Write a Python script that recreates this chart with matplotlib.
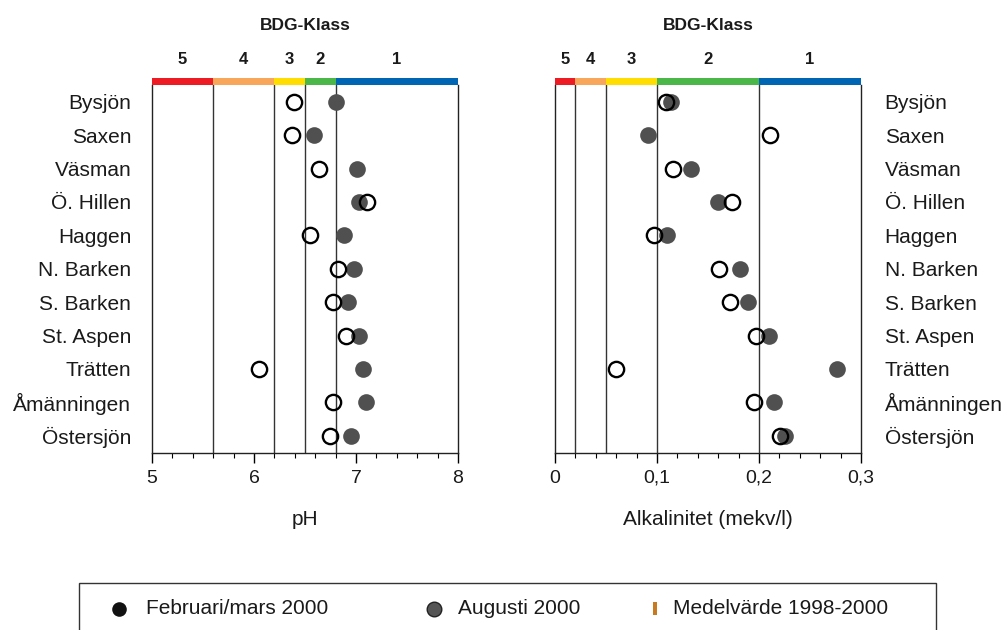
import matplotlib
matplotlib.use("Agg")
import matplotlib.pyplot as plt
from matplotlib.patches import Rectangle
from matplotlib.lines import Line2D

plt.rcParams['font.family'] = ['Liberation Sans', 'DejaVu Sans']

lakes = ["Bysjön", "Saxen", "Väsman", "Ö. Hillen", "Haggen", "N. Barken",
         "S. Barken", "St. Aspen", "Trätten", "Åmänningen", "Östersjön"]

ph_feb = [6.39, 6.37, 6.64, 7.11, 6.55, 6.82, 6.77, 6.90, 6.05, 6.77, 6.745]
ph_aug = [6.80, 6.585, 7.005, 7.03, 6.88, 6.98, 6.92, 7.03, 7.07, 7.10, 6.95]

alk_feb = [0.1085, 0.2105, 0.1154, 0.1735, 0.0967, 0.1605, 0.1712, 0.1974, 0.0595, 0.1954, 0.2206]
alk_aug = [0.1137, 0.0915, 0.1337, 0.1595, 0.1098, 0.1817, 0.1888, 0.2095, 0.276, 0.215, 0.2255]

ph_class_edges = [5.0, 5.6, 6.2, 6.5, 6.8, 8.0]
alk_class_edges = [0.0, 0.02, 0.05, 0.10, 0.20, 0.30]
class_labels = ["5", "4", "3", "2", "1"]
class_colors = ["#ED1C24", "#F7A65A", "#FFDD00", "#4BB748", "#0066B3"]

legend_labels = ["Februari/mars 2000", "Augusti 2000", "Medelvärde 1998-2000"]

FILL = "#505050"
TXT = "#1a1a1a"

W, H = 1008, 630
fig = plt.figure(figsize=(W / 100, H / 100), dpi=100)

ax_top, ax_bot = 85, 452.5
axh = (ax_bot - ax_top) / H
ax1 = fig.add_axes([152 / W, 1 - ax_bot / H, 306 / W, axh])
ax2 = fig.add_axes([555 / W, 1 - ax_bot / H, 306 / W, axh])


def setup(ax, edges, xticks, xticklabels, minor, xlabel, feb, aug, side):
    y = list(range(len(lakes)))
    ax.set_xlim(edges[0], edges[-1])
    ax.set_ylim(len(lakes) - 0.5, -0.5)
    for e in edges[1:-1]:
        ax.axvline(e, color="#333333", lw=1.0, zorder=1)
    ax.plot(aug, y, 'o', ms=12, mfc=FILL, mec='none', zorder=3)
    ax.plot(feb, y, 'o', ms=11, mfc='none', mec='black', mew=1.7, zorder=4)
    ax.set_yticks(y)
    ax.set_yticklabels(lakes, fontsize=15, color=TXT)
    ax.tick_params(axis='y', length=0, pad=15 if side == 'left' else 17)
    if side == 'right':
        ax.yaxis.tick_right()
    ax.set_xticks(xticks)
    ax.set_xticklabels(xticklabels, fontsize=14, color=TXT)
    ax.set_xticks(minor, minor=True)
    ax.tick_params(axis='x', which='major', length=7.5, width=1, direction='out', pad=5)
    ax.tick_params(axis='x', which='minor', length=3.5, width=0.8, direction='out')
    ax.spines['top'].set_visible(False)
    for s in ['left', 'right', 'bottom']:
        ax.spines[s].set_color('#222222')
        ax.spines[s].set_linewidth(1.0)
    ax.set_xlabel(xlabel, fontsize=15, color=TXT, labelpad=17)
    tr = ax.get_xaxis_transform()
    barh = 7 / (ax_bot - ax_top)
    for i in range(5):
        ax.add_patch(Rectangle((edges[i], 1.0), edges[i + 1] - edges[i], barh,
                               transform=tr, facecolor=class_colors[i],
                               edgecolor='none', clip_on=False, zorder=5))
        ax.text((edges[i] + edges[i + 1]) / 2, 1 + 26 / (ax_bot - ax_top),
                class_labels[i], transform=tr, ha='center', va='center',
                fontsize=12, fontweight='bold', color=TXT)
    ax.text(0.5, 1 + 60 / (ax_bot - ax_top), "BDG-Klass", transform=ax.transAxes,
            ha='center', va='center', fontsize=12.5, fontweight='bold', color=TXT)


ph_minor = [5 + 0.2 * i for i in range(16)]
alk_minor = [0.02 * i for i in range(16)]
setup(ax1, ph_class_edges, [5, 6, 7, 8], ["5", "6", "7", "8"], ph_minor, "pH",
      ph_feb, ph_aug, 'left')
setup(ax2, alk_class_edges, [0, 0.1, 0.2, 0.3], ["0", "0,1", "0,2", "0,3"], alk_minor,
      "Alkalinitet (mekv/l)", alk_feb, alk_aug, 'right')

# Legend box
fig.add_artist(Rectangle((79 / W, 1 - 650 / H), (936 - 79) / W, (650 - 582.5) / H,
                         transform=fig.transFigure, facecolor='none',
                         edgecolor='#333333', lw=1.0))
ly = 1 - 609 / H
fig.add_artist(Line2D([119 / W], [ly], marker='o', ms=10.5, mfc='#111111', mec='none',
                      transform=fig.transFigure))
fig.text(146 / W, ly, legend_labels[0], fontsize=15, color=TXT, va='center', ha='left')
fig.add_artist(Line2D([434 / W], [ly], marker='o', ms=10.5, mfc='#555555', mec='#222222',
                      mew=1.0, transform=fig.transFigure))
fig.text(458 / W, ly, legend_labels[1], fontsize=15, color=TXT, va='center', ha='left')
fig.add_artist(Rectangle((653 / W, 1 - 615 / H), 4 / W, 13 / H, transform=fig.transFigure,
                         facecolor='#C87A20', edgecolor='none'))
fig.text(673 / W, ly, legend_labels[2], fontsize=15, color=TXT, va='center', ha='left')

fig.savefig("out.png", dpi=100)
